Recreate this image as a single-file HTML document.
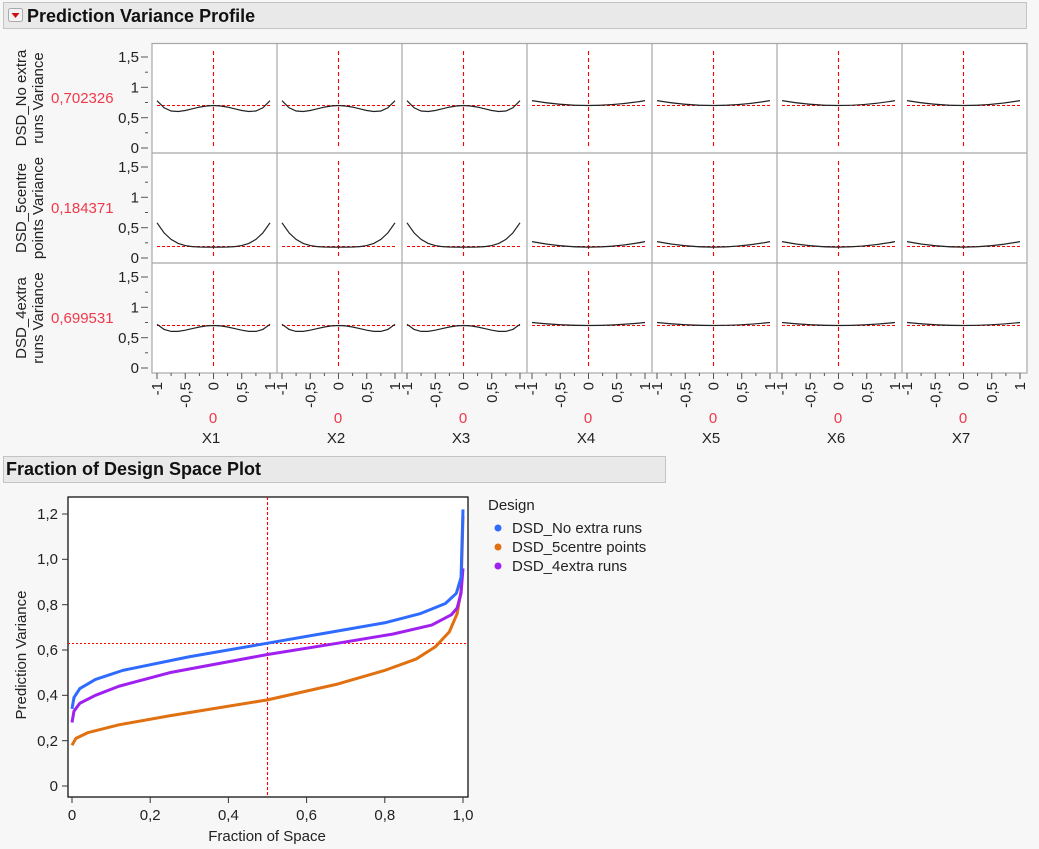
<!DOCTYPE html>
<html><head><meta charset="utf-8"><style>
html,body{margin:0;padding:0;background:#f7f7f7;width:1039px;height:849px;overflow:hidden}
svg{display:block;font-family:"Liberation Sans",sans-serif}
</style></head><body>
<svg width="1039" height="849" xmlns="http://www.w3.org/2000/svg">
<defs>
<line id="vr" x1="61.5" y1="8" x2="61.5" y2="105" stroke="#ff0000" stroke-width="1.1" stroke-dasharray="4,3"/>
<polyline id="A" fill="none" stroke="#222" stroke-width="1.2" points="5,57.7 12.1,64.8 19.1,68.0 26.2,68.5 33.25,67.5 40.3,65.8 47.4,64.1 54.4,63.0 61.5,62.5 68.6,63.0 75.6,64.1 82.7,65.8 89.75,67.5 96.8,68.5 103.9,68.0 110.9,64.8 118,57.7"/>
<polyline id="B" fill="none" stroke="#222" stroke-width="1.2" points="5,69.8 12.1,79.9 19.1,86.4 26.2,90.4 33.25,92.6 40.3,93.6 47.4,94.0 54.4,94.1 61.5,94.1 68.6,94.1 75.6,94.0 82.7,93.6 89.75,92.6 96.8,90.4 103.9,86.4 110.9,79.9 118,69.8"/>
<polyline id="E3" fill="none" stroke="#222" stroke-width="1.2" points="5,61.3 12.1,66.4 19.1,68.4 26.2,68.4 33.25,67.2 40.3,65.6 47.4,64.0 54.4,62.9 61.5,62.5 68.6,62.9 75.6,64.0 82.7,65.6 89.75,67.2 96.8,68.4 103.9,68.4 110.9,66.4 118,61.3"/>
<path id="C" d="M5,57.6 Q61.5,67.4 118,57.6" fill="none" stroke="#222" stroke-width="1.2"/>
<path id="D" d="M5,88.6 Q61.5,99.6 118,88.6" fill="none" stroke="#222" stroke-width="1.2"/>
<path id="E" d="M5,59.5 Q61.5,65.5 118,59.5" fill="none" stroke="#222" stroke-width="1.2"/>
<line id="h1" x1="5" y1="62.5" x2="118" y2="62.5" stroke="#ff0000" stroke-width="1.1" stroke-dasharray="3,2"/>
<line id="h2" x1="5" y1="93.5" x2="118" y2="93.5" stroke="#ff0000" stroke-width="1.1" stroke-dasharray="3,2"/>
<line id="h3" x1="5" y1="62.5" x2="118" y2="62.5" stroke="#ff0000" stroke-width="1.1" stroke-dasharray="3,2"/>
<g id="yax" stroke="#555" stroke-width="1">
<line x1="141" y1="14" x2="148" y2="14"/><line x1="145" y1="29.2" x2="148" y2="29.2"/>
<line x1="141" y1="44.3" x2="148" y2="44.3"/><line x1="145" y1="59.5" x2="148" y2="59.5"/>
<line x1="141" y1="74.7" x2="148" y2="74.7"/><line x1="145" y1="89.8" x2="148" y2="89.8"/>
<line x1="141" y1="105" x2="148" y2="105"/>
</g>
<g id="yl" font-size="15" fill="#222" text-anchor="end">
<text x="139" y="19">1,5</text><text x="139" y="49.5">1</text><text x="139" y="80">0,5</text><text x="139" y="110">0</text>
</g>
<g id="xax">
<g stroke="#555"><line x1="5" y1="0" x2="5" y2="6"/><line x1="19.1" y1="0" x2="19.1" y2="3"/><line x1="33.25" y1="0" x2="33.25" y2="6"/><line x1="47.4" y1="0" x2="47.4" y2="3"/><line x1="61.5" y1="0" x2="61.5" y2="6"/><line x1="75.6" y1="0" x2="75.6" y2="3"/><line x1="89.75" y1="0" x2="89.75" y2="6"/><line x1="103.9" y1="0" x2="103.9" y2="3"/><line x1="118" y1="0" x2="118" y2="6"/></g>
<g font-size="15" fill="#222" text-anchor="end">
<text transform="translate(10,9) rotate(-90)">-1</text>
<text transform="translate(38.25,9) rotate(-90)">-0,5</text>
<text transform="translate(66.5,9) rotate(-90)">0</text>
<text transform="translate(94.75,9) rotate(-90)">0,5</text>
<text transform="translate(123,9) rotate(-90)">1</text>
</g>
</g>
</defs>

<rect x="3.5" y="2.5" width="1023" height="26" fill="#e9e9e9" stroke="#c4c4c4"/>
<rect x="8.5" y="8.5" width="14" height="13" rx="2" fill="#f4f4f4" stroke="#aaa"/>
<path d="M11.5,13 L19.5,13 L15.5,18 Z" fill="#d01010"/>
<text x="27" y="22" font-size="18" font-weight="bold" fill="#111">Prediction Variance Profile</text>

<rect x="152" y="43" width="875" height="330" fill="#fff"/>
<g>
<g transform="translate(152,43)"><use href="#vr"/><use href="#h1"/><use href="#A"/></g>
<g transform="translate(277,43)"><use href="#vr"/><use href="#h1"/><use href="#A"/></g>
<g transform="translate(402,43)"><use href="#vr"/><use href="#h1"/><use href="#A"/></g>
<g transform="translate(527,43)"><use href="#vr"/><use href="#h1"/><use href="#C"/></g>
<g transform="translate(652,43)"><use href="#vr"/><use href="#h1"/><use href="#C"/></g>
<g transform="translate(777,43)"><use href="#vr"/><use href="#h1"/><use href="#C"/></g>
<g transform="translate(902,43)"><use href="#vr"/><use href="#h1"/><use href="#C"/></g>
<g transform="translate(152,153)"><use href="#vr"/><use href="#h2"/><use href="#B"/></g>
<g transform="translate(277,153)"><use href="#vr"/><use href="#h2"/><use href="#B"/></g>
<g transform="translate(402,153)"><use href="#vr"/><use href="#h2"/><use href="#B"/></g>
<g transform="translate(527,153)"><use href="#vr"/><use href="#h2"/><use href="#D"/></g>
<g transform="translate(652,153)"><use href="#vr"/><use href="#h2"/><use href="#D"/></g>
<g transform="translate(777,153)"><use href="#vr"/><use href="#h2"/><use href="#D"/></g>
<g transform="translate(902,153)"><use href="#vr"/><use href="#h2"/><use href="#D"/></g>
<g transform="translate(152,263)"><use href="#vr"/><use href="#h3"/><use href="#E3"/></g>
<g transform="translate(277,263)"><use href="#vr"/><use href="#h3"/><use href="#E3"/></g>
<g transform="translate(402,263)"><use href="#vr"/><use href="#h3"/><use href="#E3"/></g>
<g transform="translate(527,263)"><use href="#vr"/><use href="#h3"/><use href="#E"/></g>
<g transform="translate(652,263)"><use href="#vr"/><use href="#h3"/><use href="#E"/></g>
<g transform="translate(777,263)"><use href="#vr"/><use href="#h3"/><use href="#E"/></g>
<g transform="translate(902,263)"><use href="#vr"/><use href="#h3"/><use href="#E"/></g>
</g>
<g stroke="#a8a8a8" stroke-width="1.2" fill="none">
<rect x="152" y="43.5" width="875" height="329.5"/>
<line x1="277" y1="43" x2="277" y2="373"/><line x1="402" y1="43" x2="402" y2="373"/><line x1="527" y1="43" x2="527" y2="373"/><line x1="652" y1="43" x2="652" y2="373"/><line x1="777" y1="43" x2="777" y2="373"/><line x1="902" y1="43" x2="902" y2="373"/>
<line x1="152" y1="153" x2="1027" y2="153"/><line x1="152" y1="263" x2="1027" y2="263"/>
</g>
<g transform="translate(0,43)"><use href="#yax"/><use href="#yl"/></g>
<g transform="translate(0,153)"><use href="#yax"/><use href="#yl"/></g>
<g transform="translate(0,263)"><use href="#yax"/><use href="#yl"/></g>

<g font-size="15" fill="#222" text-anchor="middle">
<text transform="translate(26,98) rotate(-90)">DSD_No extra</text>
<text transform="translate(43,98) rotate(-90)">runs Variance</text>
<text transform="translate(26,208) rotate(-90)">DSD_5centre</text>
<text transform="translate(43,208) rotate(-90)">points Variance</text>
<text transform="translate(26,318) rotate(-90)">DSD_4extra</text>
<text transform="translate(43,318) rotate(-90)">runs Variance</text>
</g>
<g font-size="15" fill="#f0384a">
<text x="51" y="103">0,702326</text>
<text x="51" y="213">0,184371</text>
<text x="51" y="323">0,699531</text>
</g>

<g transform="translate(152,373)"><use href="#xax"/></g>
<g transform="translate(277,373)"><use href="#xax"/></g>
<g transform="translate(402,373)"><use href="#xax"/></g>
<g transform="translate(527,373)"><use href="#xax"/></g>
<g transform="translate(652,373)"><use href="#xax"/></g>
<g transform="translate(777,373)"><use href="#xax"/></g>
<g transform="translate(902,373)"><use href="#xax"/></g>
<g font-size="15" text-anchor="middle" fill="#f0384a">
<text x="213" y="423">0</text><text x="338" y="423">0</text><text x="463" y="423">0</text><text x="588" y="423">0</text><text x="713" y="423">0</text><text x="838" y="423">0</text><text x="963" y="423">0</text>
</g>
<g font-size="15" text-anchor="middle" fill="#222">
<text x="211" y="443">X1</text><text x="336" y="443">X2</text><text x="461" y="443">X3</text><text x="586" y="443">X4</text><text x="711" y="443">X5</text><text x="836" y="443">X6</text><text x="961" y="443">X7</text>
</g>

<rect x="3.5" y="456.5" width="662" height="26" fill="#e9e9e9" stroke="#c4c4c4"/>
<text x="6" y="475" font-size="18" font-weight="bold" fill="#111">Fraction of Design Space Plot</text>

<rect x="68" y="497" width="400" height="300" fill="#fff" stroke="#000" stroke-width="1.2"/>
<line x1="267.5" y1="497" x2="267.5" y2="797" stroke="#ff0000" stroke-width="1.1" stroke-dasharray="3,2"/>
<line x1="68" y1="643.5" x2="468" y2="643.5" stroke="#ff0000" stroke-width="1.1" stroke-dasharray="2,2"/>
<g transform="translate(72,786) scale(391,-226.7)" fill="none" stroke-width="3" stroke-linejoin="round">
<polyline vector-effect="non-scaling-stroke" stroke="#e07010" points="0,0.18 0.01,0.21 0.04,0.235 0.12,0.27 0.25,0.31 0.5,0.38 0.68,0.45 0.8,0.51 0.88,0.56 0.93,0.615 0.965,0.68 0.985,0.76 0.995,0.86 1,1.19"/>
<polyline vector-effect="non-scaling-stroke" stroke="#a020f0" points="0,0.28 0.005,0.33 0.02,0.365 0.06,0.40 0.12,0.44 0.25,0.50 0.5,0.58 0.68,0.63 0.82,0.67 0.92,0.71 0.97,0.755 0.985,0.785 0.995,0.85 1,0.96"/>
<polyline vector-effect="non-scaling-stroke" stroke="#2f6bff" points="0,0.34 0.005,0.39 0.02,0.43 0.06,0.47 0.13,0.51 0.3,0.57 0.5,0.63 0.65,0.675 0.8,0.72 0.89,0.76 0.955,0.805 0.983,0.85 0.995,0.92 1,1.22"/>
</g>
<g stroke="#333">
<line x1="62" y1="786" x2="68" y2="786"/><line x1="62" y1="740.7" x2="68" y2="740.7"/><line x1="62" y1="695.3" x2="68" y2="695.3"/><line x1="62" y1="650" x2="68" y2="650"/><line x1="62" y1="604.7" x2="68" y2="604.7"/><line x1="62" y1="559.3" x2="68" y2="559.3"/><line x1="62" y1="514" x2="68" y2="514"/>
<line x1="72" y1="797" x2="72" y2="803"/><line x1="150.2" y1="797" x2="150.2" y2="803"/><line x1="228.4" y1="797" x2="228.4" y2="803"/><line x1="306.6" y1="797" x2="306.6" y2="803"/><line x1="384.8" y1="797" x2="384.8" y2="803"/><line x1="463" y1="797" x2="463" y2="803"/>
</g>
<g font-size="15" fill="#222" text-anchor="end">
<text x="58" y="791">0</text><text x="58" y="746">0,2</text><text x="58" y="700">0,4</text><text x="58" y="655">0,6</text><text x="58" y="610">0,8</text><text x="58" y="564">1,0</text><text x="58" y="519">1,2</text>
</g>
<g font-size="15" fill="#222" text-anchor="middle">
<text x="72" y="820">0</text><text x="150.2" y="820">0,2</text><text x="228.4" y="820">0,4</text><text x="306.6" y="820">0,6</text><text x="384.8" y="820">0,8</text><text x="463" y="820">1,0</text>
<text x="267" y="841">Fraction of Space</text>
<text transform="translate(26,655) rotate(-90)">Prediction Variance</text>
</g>
<g font-size="15" fill="#222">
<text x="488" y="510">Design</text>
<circle cx="498" cy="528" r="3.5" fill="#2f6bff"/><text x="512" y="533">DSD_No extra runs</text>
<circle cx="498" cy="547" r="3.5" fill="#e07010"/><text x="512" y="552">DSD_5centre points</text>
<circle cx="498" cy="566" r="3.5" fill="#a020f0"/><text x="512" y="571">DSD_4extra runs</text>
</g>
</svg>
</body></html>
